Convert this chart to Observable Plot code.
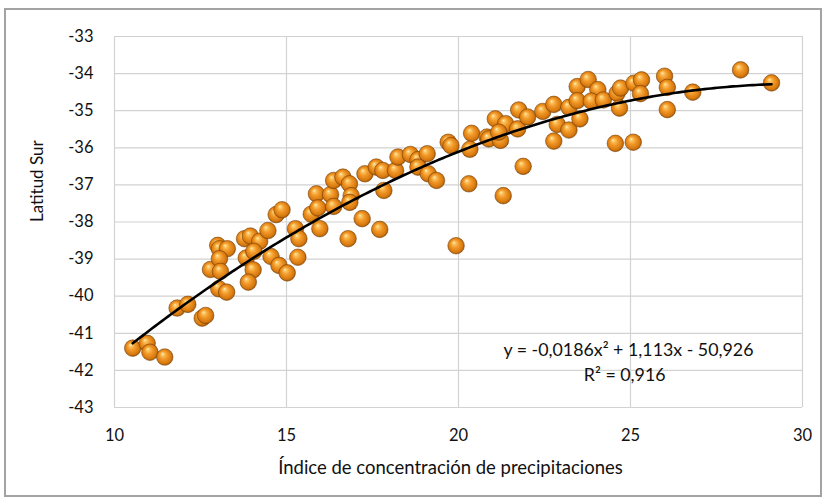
<!DOCTYPE html>
<html>
<head>
<meta charset="utf-8">
<script src="https://cdn.jsdelivr.net/npm/d3@7"></script>
<script src="https://cdn.jsdelivr.net/npm/@observablehq/plot@0.6"></script>
<style>
  html, body { margin: 0; padding: 0; background: #fff; }
  #chart { position: relative; width: 828px; height: 504px; overflow: hidden; }
  #frame { position: absolute; left: 4px; top: 8px; width: 818px; height: 489px;
           border: 2px solid #a3a3a3; box-sizing: border-box; }
  #chart svg { position: absolute; left: 0; top: 0; }
</style>
</head>
<body>
<div id="chart"><div id="frame"></div></div>
<script>
// Precipitation concentration index vs. south latitude, one value per station
const indice = [
  10.53, 10.95, 11.03, 11.46, 11.82, 12.13, 12.55, 12.65, 12.79, 13.00,
  13.05, 13.28, 13.05, 13.08, 13.03, 13.26, 13.78, 13.95, 14.22, 13.83,
  14.05, 14.03, 13.89, 14.46, 14.70, 14.87, 14.55, 14.78, 15.02, 15.33,
  15.26, 15.36, 15.72, 15.87, 15.97, 15.91, 16.28, 16.37, 16.37, 16.64,
  16.83, 16.88, 16.84, 17.20, 16.79, 17.71, 17.28, 17.61, 17.80, 17.83,
  18.17, 18.24, 18.60, 18.82, 19.09, 18.82, 19.12, 19.36, 19.70, 19.78,
  19.93, 20.30, 20.38, 20.33, 20.83, 21.07, 21.30, 21.88, 21.37, 20.88,
  21.22, 21.17, 21.72, 21.75, 22.01, 22.45, 22.77, 22.87, 22.77, 23.21,
  23.21, 23.53, 23.45, 23.77, 24.05, 23.45, 23.86, 24.21, 24.61, 24.71,
  24.68, 25.10, 25.32, 25.29, 24.56, 25.08, 25.99, 26.07, 26.07, 26.81,
  28.20, 29.10
];
const latitud = [
  -41.40, -41.27, -41.51, -41.64, -40.32, -40.22, -40.59, -40.52, -39.28, -38.63,
  -38.72, -38.72, -38.99, -39.33, -39.80, -39.89, -38.45, -38.38, -38.52, -38.97,
  -38.79, -39.29, -39.62, -38.23, -37.80, -37.67, -38.93, -39.17, -39.37, -38.95,
  -38.18, -38.45, -37.79, -37.24, -38.18, -37.62, -37.26, -37.58, -36.88, -36.79,
  -36.97, -37.29, -37.47, -37.91, -38.45, -38.20, -36.70, -36.52, -36.61, -37.15,
  -36.61, -36.25, -36.18, -36.32, -36.16, -36.52, -36.70, -36.88, -35.85, -35.94,
  -38.64, -36.97, -35.61, -36.04, -35.71, -35.22, -37.29, -36.50, -35.35, -35.76,
  -35.80, -35.58, -35.49, -34.98, -35.17, -35.02, -34.83, -35.37, -35.82, -35.52,
  -34.91, -35.22, -34.35, -34.16, -34.43, -34.73, -34.74, -34.71, -34.53, -34.39,
  -34.93, -34.26, -34.17, -34.54, -35.88, -35.85, -34.07, -34.37, -34.97, -34.50,
  -33.90, -34.25
];

const xTicks = [10, 15, 20, 25, 30];
const yTicks = [-43, -42, -41, -40, -39, -38, -37, -36, -35, -34, -33];

// Polynomial trend (order 2) and its goodness of fit
const coefA = -0.0186;
const coefB = 1.113;
const coefC = -50.926;
const rSquared = 0.916;

const xTitle = "Índice de concentración de precipitaciones";
const yTitle = "Latitud Sur";

const points = indice.map((x, i) => ({x, y: latitud[i]}));

const comma = v => String(v).replace(".", ",");
const sign = v => (v < 0 ? " - " : " + ") + comma(Math.abs(v));
const eqText = "y = " + comma(coefA) + "x²" + sign(coefB) + "x" + sign(coefC);
const r2Text = "R² = " + comma(rSquared);

const x0 = d3.min(indice), x1 = d3.max(indice);
const trend = d3.range(0, 201).map(i => {
  const x = x0 + (x1 - x0) * i / 200;
  return {x, y: coefA * x * x + coefB * x + coefC};
});

const grid = {stroke: "#d2d2d2", strokeOpacity: 1, strokeWidth: 1.2};
const ink = "#111";

const chart = Plot.plot({
  width: 828,
  height: 504,
  marginLeft: 114,
  marginRight: 26,
  marginTop: 36,
  marginBottom: 97,
  style: {fontFamily: "Lato, 'Open Sans', sans-serif", fontSize: "16px", color: ink, background: "transparent"},
  x: {domain: [10, 30]},
  y: {domain: [-43, -33]},
  marks: [
    Plot.gridX(xTicks, grid),
    Plot.gridY(yTicks, grid),
    Plot.axisX(xTicks, {tickSize: 0, tickPadding: 22, fontSize: 16.5, label: null, tickFormat: d => String(d)}),
    Plot.axisY(yTicks, {tickSize: 0, tickPadding: 21, fontSize: 16.5, label: null, tickFormat: d => String(d)}),
    Plot.dot(points, {x: "x", y: "y", r: 8.3, fill: "url(#ball)", stroke: "#6e3b06", strokeWidth: 0.6, strokeOpacity: 0.85}),
    Plot.line(trend, {x: "x", y: "y", stroke: "#000", strokeWidth: 2.6}),
    Plot.text([eqText], {x: 24.94, y: -41.46, fontSize: 17.8, fill: ink}),
    Plot.text([r2Text], {x: 24.83, y: -42.14, fontSize: 17.8, fill: ink}),
    Plot.text([xTitle], {frameAnchor: "bottom", dy: 66, dx: -8, fontSize: 18.5, fill: ink}),
    Plot.text([yTitle], {frameAnchor: "left", dx: -77, rotate: -90, fontSize: 17, fill: ink})
  ]
});

// Shaded sphere fill for the markers
const defs = d3.select(chart).insert("defs", ":first-child");
const g = defs.append("radialGradient")
  .attr("id", "ball").attr("cx", "50%").attr("cy", "50%").attr("r", "55%")
  .attr("fx", "36%").attr("fy", "30%");
[["0%", "#fff4c8"], ["14%", "#fcc867"], ["42%", "#f29a2a"], ["78%", "#d8790e"], ["100%", "#8e4b05"]]
  .forEach(([o, c]) => g.append("stop").attr("offset", o).attr("stop-color", c));

document.getElementById("chart").appendChild(chart);
</script>
</body>
</html>
